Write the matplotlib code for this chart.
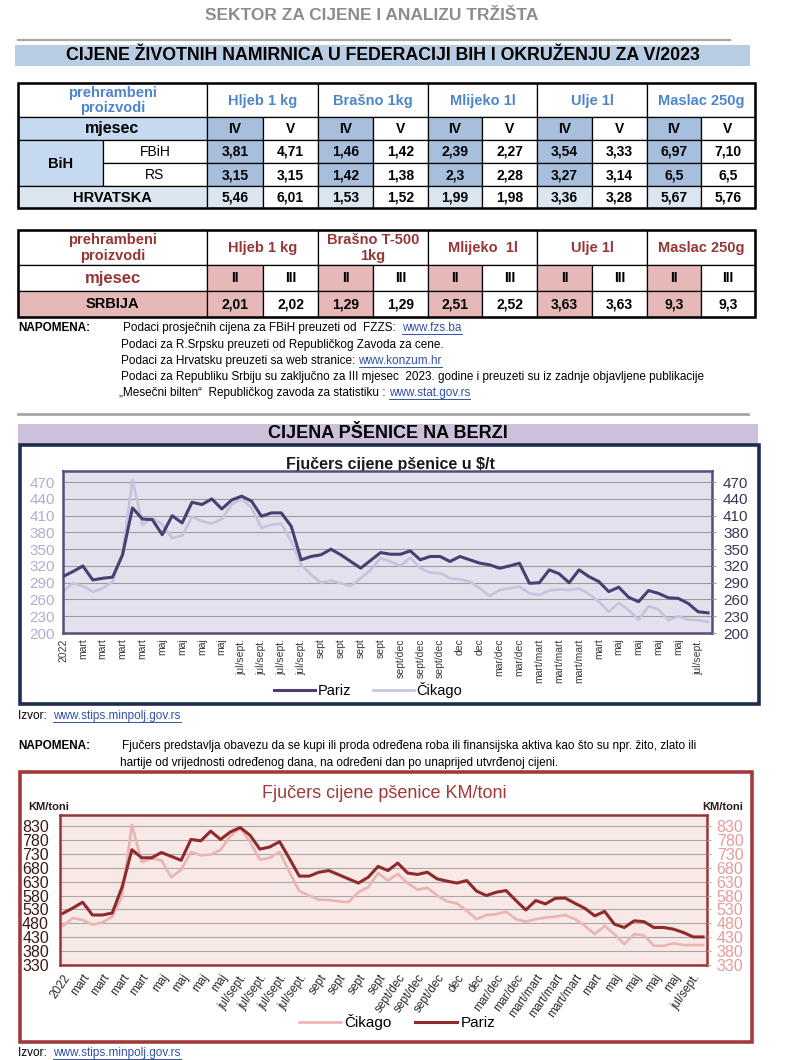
import matplotlib
matplotlib.use("Agg")
import matplotlib.pyplot as plt
from matplotlib.patches import Rectangle

plt.rcParams['font.family'] = ['Liberation Sans Narrow', 'Liberation Sans', 'DejaVu Sans']

W, H = 800, 1060

# ---- tabela 1: BiH i Hrvatska ----
products1 = ['Hljeb 1 kg', 'Brašno 1kg', 'Mlijeko 1l', 'Ulje 1l', 'Maslac 250g']
months1 = ['IV', 'V']
fbih_iv = ['3,81', '1,46', '2,39', '3,54', '6,97']
fbih_v = ['4,71', '1,42', '2,27', '3,33', '7,10']
rs_iv = ['3,15', '1,42', '2,3', '3,27', '6,5']
rs_v = ['3,15', '1,38', '2,28', '3,14', '6,5']
hr_iv = ['5,46', '1,53', '1,99', '3,36', '5,67']
hr_v = ['6,01', '1,52', '1,98', '3,28', '5,76']

# ---- tabela 2: Srbija ----
products2 = ['Hljeb 1 kg', 'Brašno T-500\n1kg', 'Mlijeko  1l', 'Ulje 1l', 'Maslac 250g']
months2 = ['II', 'III']
srb_ii = ['2,01', '1,29', '2,51', '3,63', '9,3']
srb_iii = ['2,02', '1,29', '2,52', '3,63', '9,3']

# ---- fjucers cijene ----
x_labels = ['2022', 'mart', 'mart', 'mart', 'mart', 'maj', 'maj', 'maj', 'maj',
            'jul/sept.', 'jul/sept.', 'jul/sept.', 'jul/sept.', 'sept', 'sept', 'sept', 'sept',
            'sept/dec', 'sept/dec', 'sept/dec', 'dec', 'dec', 'mar/dec', 'mar/dec',
            'mart/mart', 'mart/mart', 'mart/mart', 'mart', 'maj', 'maj', 'maj', 'maj', 'jul/sept.']

pariz_usd = [301, 310, 320, 295, 298, 300, 340, 424, 404, 403, 376, 410, 397, 434, 430, 440,
             422, 438, 445, 436, 409, 415, 415, 391, 331, 337, 340, 350, 340, 328, 316, 330,
             344, 341, 341, 347, 331, 337, 337, 328, 337, 331, 325, 322, 316, 320, 325, 289,
             290, 313, 306, 290, 313, 301, 292, 274, 282, 264, 256, 276, 271, 263, 262, 253,
             238, 236]
cikago_usd = [274, 289, 284, 274, 280, 292, 343, 474, 394, 406, 394, 370, 374, 408, 400, 396,
              404, 430, 440, 424, 388, 394, 396, 364, 322, 304, 290, 294, 289, 284, 298, 313,
              334, 328, 320, 335, 316, 308, 307, 298, 296, 292, 280, 266, 277, 280, 283, 271,
              268, 276, 278, 277, 280, 270, 256, 238, 254, 241, 224, 248, 242, 223, 230, 224,
              223, 220]

pariz_km = [516, 535, 556, 510, 510, 517, 610, 745, 716, 716, 735, 721, 707, 782, 777, 812,
            782, 809, 825, 797, 747, 755, 774, 713, 650, 650, 664, 670, 655, 640, 625, 646,
            685, 670, 697, 661, 656, 664, 640, 632, 625, 634, 596, 580, 592, 598, 562, 528,
            562, 550, 570, 571, 552, 534, 507, 523, 477, 465, 489, 486, 465, 465, 459, 447,
            431, 431]
cikago_km = [471, 499, 492, 475, 483, 504, 576, 834, 701, 713, 707, 646, 673, 737, 725, 727,
             745, 794, 822, 773, 709, 716, 737, 664, 596, 580, 565, 564, 559, 556, 592, 610,
             661, 634, 658, 625, 601, 608, 580, 559, 552, 525, 495, 510, 513, 522, 495, 486,
             495, 501, 504, 510, 495, 471, 441, 471, 441, 405, 441, 437, 399, 399, 408, 402,
             402, 402]

ticks_usd = list(range(200, 471, 30))
ticks_km = list(range(330, 831, 50))

notes1 = [
    ('Podaci prosječnih cijena za FBiH preuzeti od  FZZS:  ', 'www.fzs.ba'),
    ('Podaci za R.Srpsku preuzeti od Republičkog Zavoda za cene.', ''),
    ('Podaci za Hrvatsku preuzeti sa web stranice: ', 'www.konzum.hr'),
    ('Podaci za Republiku Srbiju su zaključno za III mjesec  2023. godine i preuzeti su iz zadnje objavljene publikacije', ''),
    ('„Mesečni bilten“  Republičkog zavoda za statistiku : ', 'www.stat.gov.rs'),
]
notes2 = ['Fjučers predstavlja obavezu da se kupi ili proda određena roba ili finansijska aktiva kao što su npr. žito, zlato ili',
          'hartije od vrijednosti određenog dana, na određeni dan po unaprijed utvrđenoj cijeni.']
izvor_link = 'www.stips.minpolj.gov.rs'


def px_rect(l, t, r, b):
    return [l / W, 1 - b / H, (r - l) / W, (b - t) / H]


fig = plt.figure(figsize=(W / 100, H / 100), dpi=100)
bg = fig.add_axes([0, 0, 1, 1])
bg.set_xlim(0, W)
bg.set_ylim(H, 0)
bg.axis('off')

links = []


def cell(x0, y0, x1, y1, text='', fc='white', color='black', size=10, weight='bold'):
    bg.add_patch(Rectangle((x0, y0), x1 - x0, y1 - y0, facecolor=fc, edgecolor='black', lw=0.9))
    if text:
        bg.text((x0 + x1) / 2, (y0 + y1) / 2 + 0.5, text, ha='center', va='center',
                fontsize=size, color=color, fontweight=weight, linespacing=1.15)


# naslovi
bg.text(372, 16, 'SEKTOR ZA CIJENE I ANALIZU TRŽIŠTA', ha='center', va='center',
        fontsize=12.5, fontweight='bold', color='#8c8c8c')
bg.plot([18, 730], [40, 40], color='#a6a6a6', lw=1.6)
bg.add_patch(Rectangle((15, 45), 735, 21, facecolor='#b8cce4', edgecolor='none'))
bg.text(383, 56, 'CIJENE ŽIVOTNIH NAMIRNICA U FEDERACIJI BIH I OKRUŽENJU ZA V/2023',
        ha='center', va='center', fontsize=12.8, fontweight='bold', color='black')

# tabela 1
xs = [207, 263, 318, 373, 428, 482, 537, 592, 647, 701, 755]
ys1 = [83, 117, 140, 163, 186, 208]
blue_txt = '#4f85cc'
dark_blue = '#a7bfdc'
mid_blue = '#c5d9f1'
light_blue = '#dce6f1'
cell(18, ys1[0], 207, ys1[1], 'prehrambeni\nproizvodi', color=blue_txt, size=10.5)
cell(18, ys1[1], 207, ys1[2], 'mjesec', fc=mid_blue, size=11.5)
cell(18, ys1[2], 103, ys1[4], 'BiH', fc=mid_blue, size=10.5)
cell(103, ys1[2], 207, ys1[3], 'FBiH', size=10, weight='normal')
cell(103, ys1[3], 207, ys1[4], 'RS', size=10, weight='normal')
cell(18, ys1[4], 207, ys1[5], 'HRVATSKA', fc=light_blue, size=10.5)
for i, p in enumerate(products1):
    a, m, b = xs[2 * i], xs[2 * i + 1], xs[2 * i + 2]
    cell(a, ys1[0], b, ys1[1], p, color=blue_txt, size=10.5)
    cell(a, ys1[1], m, ys1[2], months1[0], fc=dark_blue)
    cell(m, ys1[1], b, ys1[2], months1[1])
    cell(a, ys1[2], m, ys1[3], fbih_iv[i], fc=dark_blue)
    cell(m, ys1[2], b, ys1[3], fbih_v[i])
    cell(a, ys1[3], m, ys1[4], rs_iv[i], fc=dark_blue)
    cell(m, ys1[3], b, ys1[4], rs_v[i])
    cell(a, ys1[4], m, ys1[5], hr_iv[i], fc=light_blue)
    cell(m, ys1[4], b, ys1[5], hr_v[i])
bg.add_patch(Rectangle((18, ys1[0]), 737, ys1[5] - ys1[0], fill=False, edgecolor='black', lw=1.8))

# tabela 2
ys2 = [230, 265, 291, 317]
red_txt = '#953735'
pink = '#e6b9b8'
cell(18, ys2[0], 207, ys2[1], 'prehrambeni\nproizvodi', color=red_txt, size=10.5)
cell(18, ys2[1], 207, ys2[2], 'mjesec', color=red_txt, size=12)
cell(18, ys2[2], 207, ys2[3], 'SRBIJA', fc=pink, size=10.5)
for i, p in enumerate(products2):
    a, m, b = xs[2 * i], xs[2 * i + 1], xs[2 * i + 2]
    cell(a, ys2[0], b, ys2[1], p, color=red_txt, size=10.5)
    cell(a, ys2[1], m, ys2[2], months2[0], fc=pink)
    cell(m, ys2[1], b, ys2[2], months2[1])
    cell(a, ys2[2], m, ys2[3], srb_ii[i], fc=pink)
    cell(m, ys2[2], b, ys2[3], srb_iii[i])
bg.add_patch(Rectangle((18, ys2[0]), 737, ys2[3] - ys2[0], fill=False, edgecolor='black', lw=1.8))

# napomena 1
bg.text(18, 328, 'NAPOMENA:', fontsize=8.5, fontweight='bold', va='center')
note_y = [328, 345, 361, 377, 393]
note_x = [123, 121, 121, 121, 119]
for (plain, link), yy, xx in zip(notes1, note_y, note_x):
    t = bg.text(xx, yy, plain, fontsize=8.5, va='center')
    if link:
        links.append((t, link, yy))

bg.plot([18, 748], [414, 414], color='#a6a6a6', lw=2)

# grafikon 1
bg.add_patch(Rectangle((18, 424), 740, 20, facecolor='#ccc0da', edgecolor='none'))
bg.text(388, 434, 'CIJENA PŠENICE NA BERZI', ha='center', va='center', fontsize=13,
        fontweight='bold')
bg.add_patch(Rectangle((20, 445), 739, 259, facecolor='white', edgecolor='#1d2c4f', lw=2.6))
bg.text(390, 465, 'Fjučers cijene pšenice u $/t', ha='center', va='center', fontsize=11.5,
        fontweight='bold', color='#1a1a1a')

ax1 = fig.add_axes(px_rect(63, 471, 712, 633))
ax1.set_facecolor('#e5e0ee')
idx = list(range(len(pariz_usd)))
l_p1, = ax1.plot(idx, pariz_usd, color='#4b3f72', lw=2.2, label='Pariz', zorder=3)
l_c1, = ax1.plot(idx, cikago_usd, color='#c9c1dd', lw=1.9, label='Čikago', zorder=2)
ax1.set_xlim(0, 65.4)
ax1.set_ylim(200, 490)
ax1.set_yticks(ticks_usd)
ax1.yaxis.grid(True, color='#9c9c9c', lw=0.8)
ax1.set_axisbelow(True)
ax1.set_xticks(range(0, 66, 2))
ax1.set_xticklabels(x_labels, rotation=90, fontsize=7.5, color='#3a3a3a')
ax1.tick_params(axis='x', length=0, pad=4)
ax1.tick_params(axis='y', length=0, labelsize=11, labelcolor='#b5abcd', pad=6)
for s in ax1.spines.values():
    s.set_color('#5a4b82')
    s.set_linewidth(1.8)
ax1r = ax1.twinx()
ax1r.set_ylim(ax1.get_ylim())
ax1r.set_yticks(ticks_usd)
ax1r.tick_params(axis='y', length=3, color='#9c9c9c', labelsize=11, labelcolor='#3b3552', pad=5)
for s in ax1r.spines.values():
    s.set_visible(False)
fig.legend(handles=[l_p1, l_c1], loc='center', bbox_to_anchor=(368 / W, 1 - 690 / H),
           ncol=2, frameon=False, fontsize=10.5, handlelength=2.8, columnspacing=1.5,
           handletextpad=0.2)

t_iz1 = bg.text(18, 716, 'Izvor:  ', fontsize=8.5, va='center')
links.append((t_iz1, izvor_link, 716))

# napomena 2
bg.text(18, 746, 'NAPOMENA:', fontsize=8.5, fontweight='bold', va='center')
bg.text(122, 746, notes2[0], fontsize=8.5, va='center')
bg.text(120, 763, notes2[1], fontsize=8.5, va='center')

# grafikon 2
bg.add_patch(Rectangle((20, 772), 732, 270, facecolor='white', edgecolor='#a13b3b', lw=2.6))
bg.text(384, 793, 'Fjučers cijene pšenice KM/toni', ha='center', va='center', fontsize=13,
        color='#a03a3a')
bg.text(28, 807, 'KM/toni', fontsize=8, fontweight='bold', va='center', color='#2a1a1a')
bg.text(743, 807, 'KM/toni', fontsize=8, fontweight='bold', va='center', ha='right',
        color='#2a1a1a')

ax2 = fig.add_axes(px_rect(60, 815, 707, 965))
ax2.set_facecolor('#f8e9e7')
idx2 = list(range(len(pariz_km)))
l_c2, = ax2.plot(idx2, cikago_km, color='#e9b5b3', lw=1.9, label='Čikago', zorder=2)
l_p2, = ax2.plot(idx2, pariz_km, color='#8e2a2c', lw=2.2, label='Pariz', zorder=3)
ax2.set_xlim(-0.3, 65.4)
ax2.set_ylim(330, 870)
ax2.set_yticks(ticks_km)
ax2.yaxis.grid(True, color='#a8a8a8', lw=0.8)
ax2.set_axisbelow(True)
ax2.set_xticks(range(0, 66, 2))
ax2.set_xticklabels(x_labels, rotation=55, ha='right', rotation_mode='anchor', fontsize=8.5,
                    color='#2a2a2a')
ax2.tick_params(axis='x', length=0, pad=5)
ax2.tick_params(axis='y', length=0, labelsize=11.5, labelcolor='#3d1818', pad=8)
for s in ax2.spines.values():
    s.set_color('#9b3436')
    s.set_linewidth(1.8)
ax2r = ax2.twinx()
ax2r.set_ylim(ax2.get_ylim())
ax2r.set_yticks(ticks_km)
ax2r.tick_params(axis='y', length=3, color='#b0b0b0', labelsize=11.5, labelcolor='#e59c9a', pad=4)
for s in ax2r.spines.values():
    s.set_visible(False)
fig.legend(handles=[l_c2, l_p2], loc='center', bbox_to_anchor=(397 / W, 1 - 1022 / H),
           ncol=2, frameon=False, fontsize=11, handlelength=2.8, columnspacing=1.5,
           handletextpad=0.2)

t_iz2 = bg.text(18, 1053, 'Izvor:  ', fontsize=8.5, va='center')
links.append((t_iz2, izvor_link, 1053))

# linkovi sa podvlakom
fig.canvas.draw()
renderer = fig.canvas.get_renderer()
inv = bg.transData.inverted()
for t, link, yy in links:
    ext = t.get_window_extent(renderer)
    x_end = inv.transform((ext.x1, ext.y0))[0]
    lt = bg.text(x_end, yy, link, fontsize=8.5, va='center', color='#3152a3')
    e2 = lt.get_window_extent(renderer)
    xa = inv.transform((e2.x0, e2.y0))
    xb = inv.transform((e2.x1, e2.y0))
    bg.plot([xa[0], xb[0]], [yy + 6, yy + 6], color='#3152a3', lw=0.7)

fig.savefig('out.png', dpi=100)
